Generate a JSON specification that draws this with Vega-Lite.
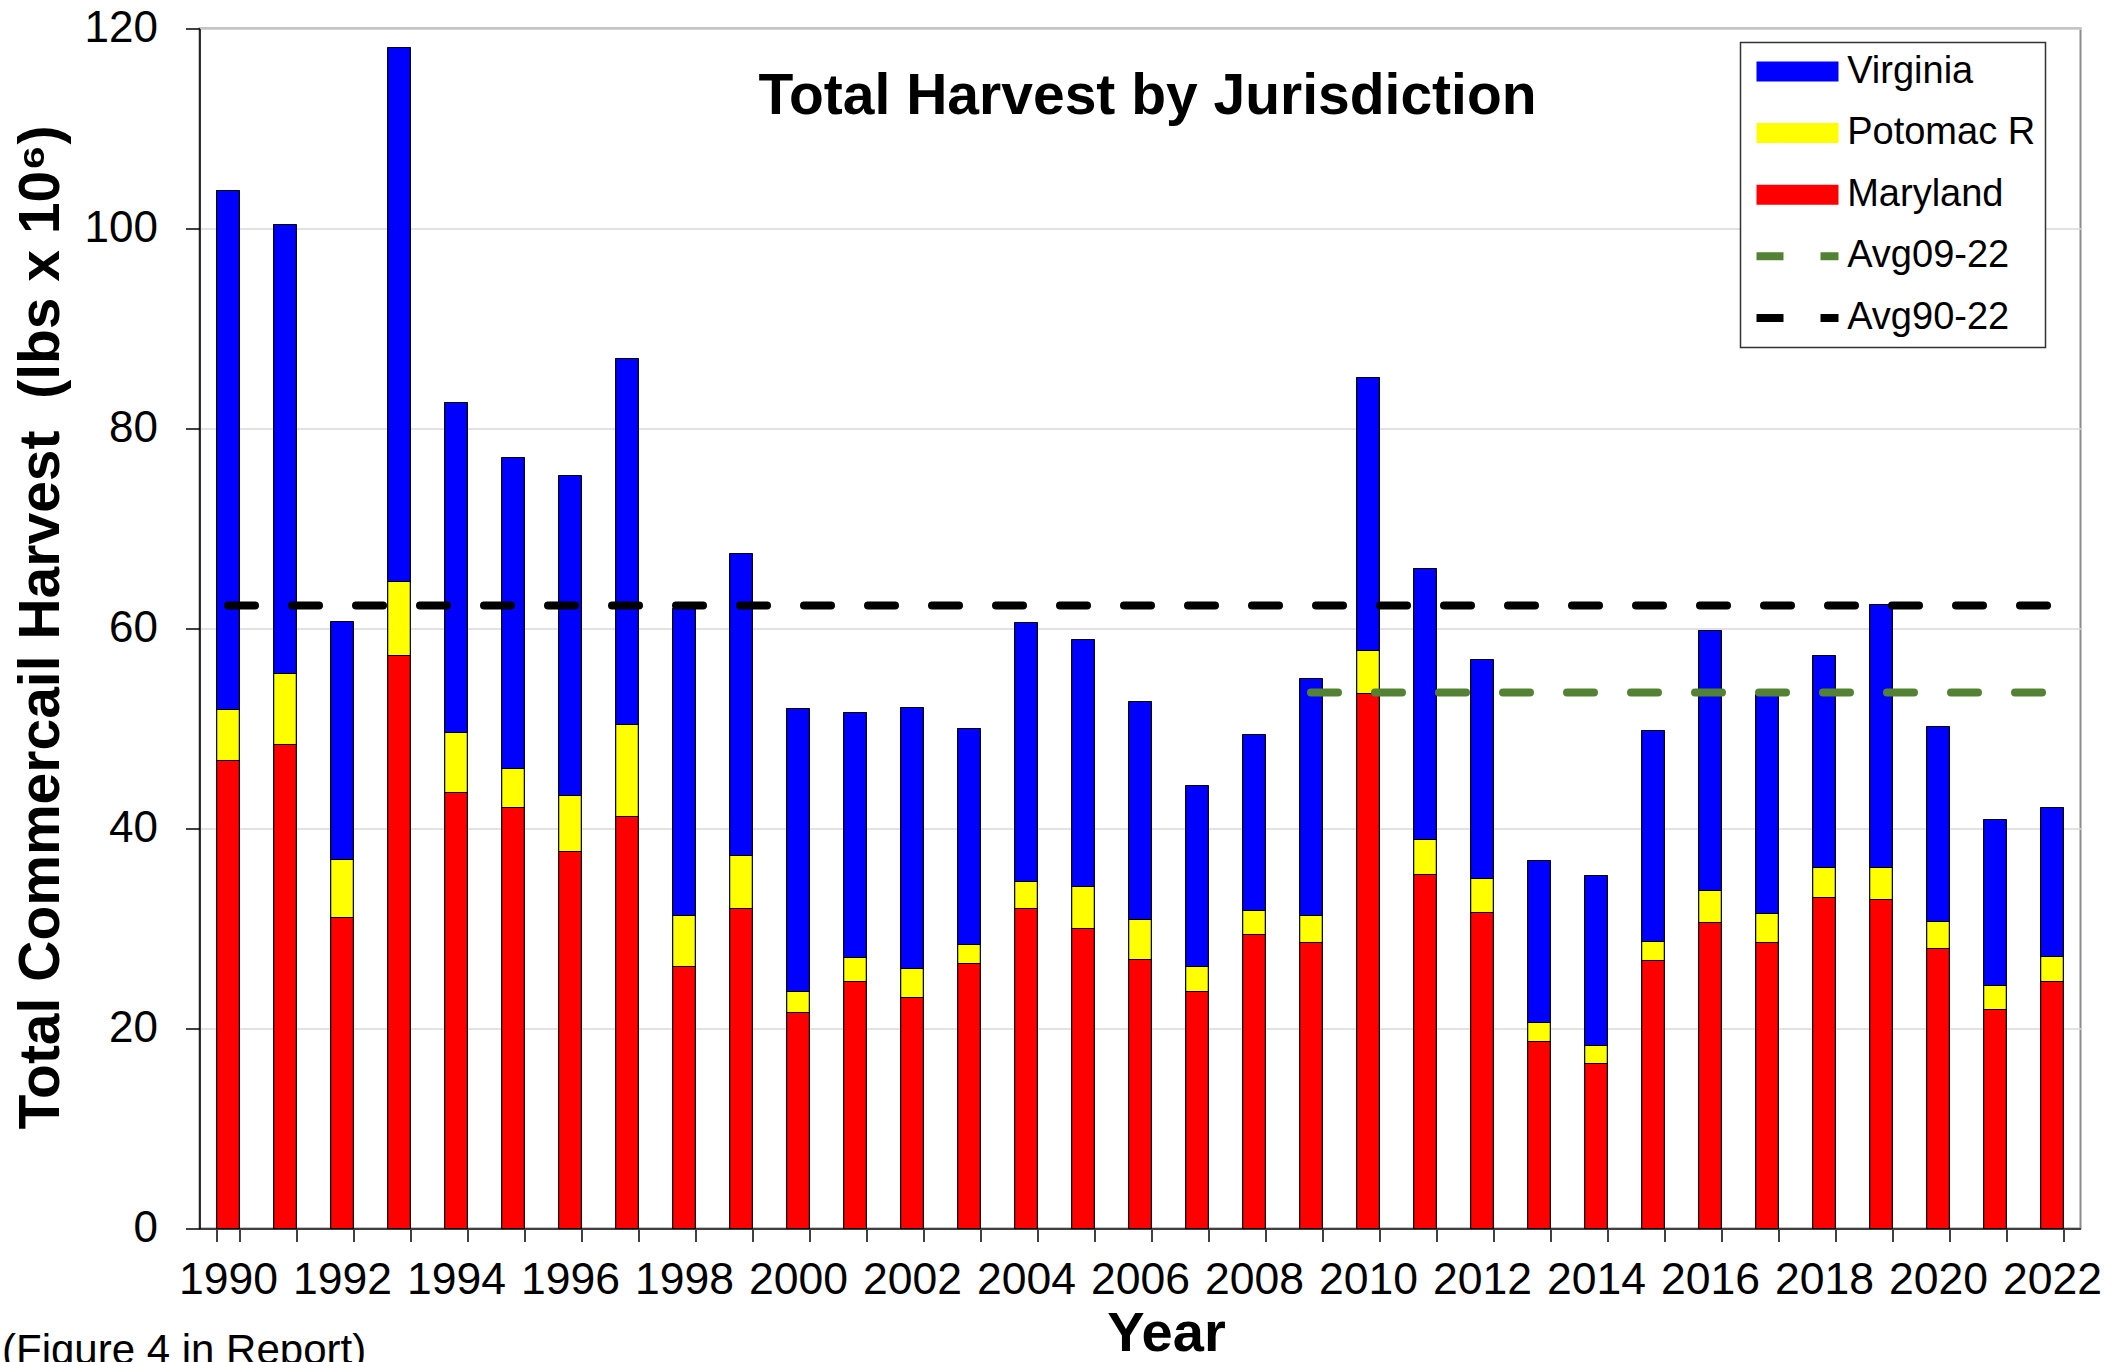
{
  "$schema": "https://vega.github.io/schema/vega-lite/v6.json",
  "background": "white",
  "padding": {"left": 1.5, "top": 5.5, "right": 13, "bottom": 0},
  "title": {"text": "(Figure 4 in Report)", "orient": "bottom", "anchor": "start", "frame": "group", "font": "Liberation Sans", "fontSize": 42, "fontWeight": "normal", "color": "black", "baseline": "alphabetic", "offset": 0, "dx": -197.5, "dy": 1},
  "config": {
    "font": "Liberation Sans",
    "view": {"stroke": "#8c8c8c", "strokeWidth": 2},
    "legend": {"strokeWidth": 1.5},
    "mark": {"strokeJoin": "round"},
    "bar": {"strokeJoin": "round"},
    "rule": {"strokeJoin": "round"}
  },
  "vconcat": [
    {
      "width": 1881,
      "height": 1200,
      "title": {"text": "Total Harvest by Jurisdiction", "anchor": "middle", "frame": "group", "font": "Liberation Sans", "fontSize": 57, "fontWeight": "bold", "color": "black", "baseline": "alphabetic", "offset": 0, "dx": 7.5, "dy": 164.5},
      "layer": [
        {
          "data": {"values": [
            {"year": 1990, "series": "Maryland", "harvest": 46.8}, {"year": 1990, "series": "Potomac R", "harvest": 5.1}, {"year": 1990, "series": "Virginia", "harvest": 51.9},
            {"year": 1991, "series": "Maryland", "harvest": 48.4}, {"year": 1991, "series": "Potomac R", "harvest": 7.1}, {"year": 1991, "series": "Virginia", "harvest": 44.9},
            {"year": 1992, "series": "Maryland", "harvest": 31.1}, {"year": 1992, "series": "Potomac R", "harvest": 5.8}, {"year": 1992, "series": "Virginia", "harvest": 23.8},
            {"year": 1993, "series": "Maryland", "harvest": 57.3}, {"year": 1993, "series": "Potomac R", "harvest": 7.4}, {"year": 1993, "series": "Virginia", "harvest": 53.4},
            {"year": 1994, "series": "Maryland", "harvest": 43.6}, {"year": 1994, "series": "Potomac R", "harvest": 6.0}, {"year": 1994, "series": "Virginia", "harvest": 33.0},
            {"year": 1995, "series": "Maryland", "harvest": 42.1}, {"year": 1995, "series": "Potomac R", "harvest": 3.9}, {"year": 1995, "series": "Virginia", "harvest": 31.1},
            {"year": 1996, "series": "Maryland", "harvest": 37.7}, {"year": 1996, "series": "Potomac R", "harvest": 5.6}, {"year": 1996, "series": "Virginia", "harvest": 32.0},
            {"year": 1997, "series": "Maryland", "harvest": 41.2}, {"year": 1997, "series": "Potomac R", "harvest": 9.2}, {"year": 1997, "series": "Virginia", "harvest": 36.6},
            {"year": 1998, "series": "Maryland", "harvest": 26.2}, {"year": 1998, "series": "Potomac R", "harvest": 5.1}, {"year": 1998, "series": "Virginia", "harvest": 30.7},
            {"year": 1999, "series": "Maryland", "harvest": 32.0}, {"year": 1999, "series": "Potomac R", "harvest": 5.3}, {"year": 1999, "series": "Virginia", "harvest": 30.2},
            {"year": 2000, "series": "Maryland", "harvest": 21.6}, {"year": 2000, "series": "Potomac R", "harvest": 2.1}, {"year": 2000, "series": "Virginia", "harvest": 28.3},
            {"year": 2001, "series": "Maryland", "harvest": 24.7}, {"year": 2001, "series": "Potomac R", "harvest": 2.4}, {"year": 2001, "series": "Virginia", "harvest": 24.5},
            {"year": 2002, "series": "Maryland", "harvest": 23.1}, {"year": 2002, "series": "Potomac R", "harvest": 2.9}, {"year": 2002, "series": "Virginia", "harvest": 26.1},
            {"year": 2003, "series": "Maryland", "harvest": 26.5}, {"year": 2003, "series": "Potomac R", "harvest": 1.9}, {"year": 2003, "series": "Virginia", "harvest": 21.6},
            {"year": 2004, "series": "Maryland", "harvest": 32.0}, {"year": 2004, "series": "Potomac R", "harvest": 2.7}, {"year": 2004, "series": "Virginia", "harvest": 25.9},
            {"year": 2005, "series": "Maryland", "harvest": 30.0}, {"year": 2005, "series": "Potomac R", "harvest": 4.2}, {"year": 2005, "series": "Virginia", "harvest": 24.7},
            {"year": 2006, "series": "Maryland", "harvest": 26.9}, {"year": 2006, "series": "Potomac R", "harvest": 4.0}, {"year": 2006, "series": "Virginia", "harvest": 21.8},
            {"year": 2007, "series": "Maryland", "harvest": 23.7}, {"year": 2007, "series": "Potomac R", "harvest": 2.5}, {"year": 2007, "series": "Virginia", "harvest": 18.1},
            {"year": 2008, "series": "Maryland", "harvest": 29.4}, {"year": 2008, "series": "Potomac R", "harvest": 2.4}, {"year": 2008, "series": "Virginia", "harvest": 17.6},
            {"year": 2009, "series": "Maryland", "harvest": 28.6}, {"year": 2009, "series": "Potomac R", "harvest": 2.7}, {"year": 2009, "series": "Virginia", "harvest": 23.7},
            {"year": 2010, "series": "Maryland", "harvest": 53.5}, {"year": 2010, "series": "Potomac R", "harvest": 4.3}, {"year": 2010, "series": "Virginia", "harvest": 27.3},
            {"year": 2011, "series": "Maryland", "harvest": 35.4}, {"year": 2011, "series": "Potomac R", "harvest": 3.5}, {"year": 2011, "series": "Virginia", "harvest": 27.1},
            {"year": 2012, "series": "Maryland", "harvest": 31.6}, {"year": 2012, "series": "Potomac R", "harvest": 3.4}, {"year": 2012, "series": "Virginia", "harvest": 21.9},
            {"year": 2013, "series": "Maryland", "harvest": 18.7}, {"year": 2013, "series": "Potomac R", "harvest": 1.9}, {"year": 2013, "series": "Virginia", "harvest": 16.2},
            {"year": 2014, "series": "Maryland", "harvest": 16.5}, {"year": 2014, "series": "Potomac R", "harvest": 1.8}, {"year": 2014, "series": "Virginia", "harvest": 17.0},
            {"year": 2015, "series": "Maryland", "harvest": 26.8}, {"year": 2015, "series": "Potomac R", "harvest": 1.9}, {"year": 2015, "series": "Virginia", "harvest": 21.1},
            {"year": 2016, "series": "Maryland", "harvest": 30.6}, {"year": 2016, "series": "Potomac R", "harvest": 3.2}, {"year": 2016, "series": "Virginia", "harvest": 26.0},
            {"year": 2017, "series": "Maryland", "harvest": 28.6}, {"year": 2017, "series": "Potomac R", "harvest": 2.9}, {"year": 2017, "series": "Virginia", "harvest": 21.9},
            {"year": 2018, "series": "Maryland", "harvest": 33.1}, {"year": 2018, "series": "Potomac R", "harvest": 3.0}, {"year": 2018, "series": "Virginia", "harvest": 21.2},
            {"year": 2019, "series": "Maryland", "harvest": 32.9}, {"year": 2019, "series": "Potomac R", "harvest": 3.2}, {"year": 2019, "series": "Virginia", "harvest": 26.3},
            {"year": 2020, "series": "Maryland", "harvest": 28.0}, {"year": 2020, "series": "Potomac R", "harvest": 2.7}, {"year": 2020, "series": "Virginia", "harvest": 19.5},
            {"year": 2021, "series": "Maryland", "harvest": 21.9}, {"year": 2021, "series": "Potomac R", "harvest": 2.4}, {"year": 2021, "series": "Virginia", "harvest": 16.6},
            {"year": 2022, "series": "Maryland", "harvest": 24.7}, {"year": 2022, "series": "Potomac R", "harvest": 2.5}, {"year": 2022, "series": "Virginia", "harvest": 14.9}
          ]},
          "transform": [{"calculate": "indexof(['Maryland','Potomac R','Virginia'], datum.series)", "as": "ord"}],
          "mark": {"type": "bar", "stroke": "black", "strokeWidth": 1.2},
          "encoding": {
            "x": {
              "field": "year", "type": "ordinal",
              "scale": {"paddingInner": 0.602, "paddingOuter": 0.301},
              "axis": {
                "title": "Year", "titleFont": "Liberation Sans", "titleFontSize": 56, "titleFontWeight": "bold", "titleColor": "black",
                "titleX": 966.5, "titleY": 122, "titleBaseline": "alphabetic", "titleAlign": "center",
                "labelFont": "Liberation Sans", "labelFontSize": 44.5, "labelColor": "black", "labelAngle": 0,
                "labelBaseline": "alphabetic", "labelPadding": 52, "labelOverlap": false,
                "labelExpr": "datum.value % 2 === 0 ? datum.label : ''",
                "tickBand": "extent", "tickSize": 13, "tickColor": "#404040", "tickWidth": 2,
                "domainColor": "#404040", "domainWidth": 2, "grid": false
              }
            },
            "y": {
              "field": "harvest", "type": "quantitative", "stack": "zero",
              "scale": {"domain": [0, 120], "nice": false},
              "axis": {
                "title": "Total Commercail Harvest\u00a0 (lbs x 10\u2076)", "titleFont": "Liberation Sans", "titleFontSize": 57, "titleFontWeight": "bold", "titleColor": "black",
                "titleX": -140.7, "titleY": 598.5, "titleAngle": -90, "titleBaseline": "alphabetic", "titleAlign": "center",
                "values": [0, 20, 40, 60, 80, 100, 120],
                "labelFont": "Liberation Sans", "labelFontSize": 44, "labelColor": "black", "labelPadding": 28,
                "tickSize": 14, "tickColor": "black", "tickWidth": 1.5,
                "domainColor": "black", "domainWidth": 1.5,
                "grid": true, "gridColor": "#d9d9d9", "gridWidth": 1.5
              }
            },
            "fill": {
              "field": "series", "type": "nominal",
              "scale": {"domain": ["Virginia", "Potomac R", "Maryland", "Avg09-22", "Avg90-22"], "range": ["#0000ff", "#ffff00", "#ff0000", "#548235", "#000000"]},
              "legend": {
                "orient": "none", "legendX": 1541, "legendY": 14, "title": null, "direction": "vertical",
                "padding": 10, "strokeColor": "#333333", "fillColor": "white",
                "symbolType": "M0,0H9.111", "symbolSize": 324, "symbolOffset": -13,
                "labelFont": "Liberation Sans", "labelFontSize": 38, "labelColor": "black", "labelOffset": 71.7, "labelLimit": 400,
                "rowPadding": 23.6
              }
            },
            "order": {"field": "ord", "type": "quantitative"}
          }
        },
        {
          "data": {"values": [
            {"series": "Avg90-22", "from": 1990, "to": 2022, "avg": 62.3},
            {"series": "Avg09-22", "from": 2009, "to": 2022, "avg": 53.6}
          ]},
          "mark": {"type": "rule", "strokeCap": "round"},
          "encoding": {
            "x": {"field": "from", "type": "ordinal"},
            "x2": {"field": "to"},
            "y": {"field": "avg", "type": "quantitative"},
            "stroke": {"field": "series", "type": "nominal", "scale": {"type": "ordinal", "domain": ["Virginia", "Potomac R", "Maryland", "Avg09-22", "Avg90-22"], "range": ["#0000ff", "#ffff00", "#ff0000", "#548235", "#000000"]}},
            "strokeWidth": {"field": "series", "type": "nominal", "scale": {"type": "ordinal", "domain": ["Virginia", "Potomac R", "Maryland", "Avg09-22", "Avg90-22"], "range": [20, 20, 20, 8, 8]}},
            "strokeDash": {"field": "series", "type": "nominal", "scale": {"type": "ordinal", "domain": ["Virginia", "Potomac R", "Maryland", "Avg09-22", "Avg90-22"], "range": [[1, 0], [1, 0], [1, 0], [27, 37], [27, 37]]}}
          }
        }
      ]
    }
  ]
}
